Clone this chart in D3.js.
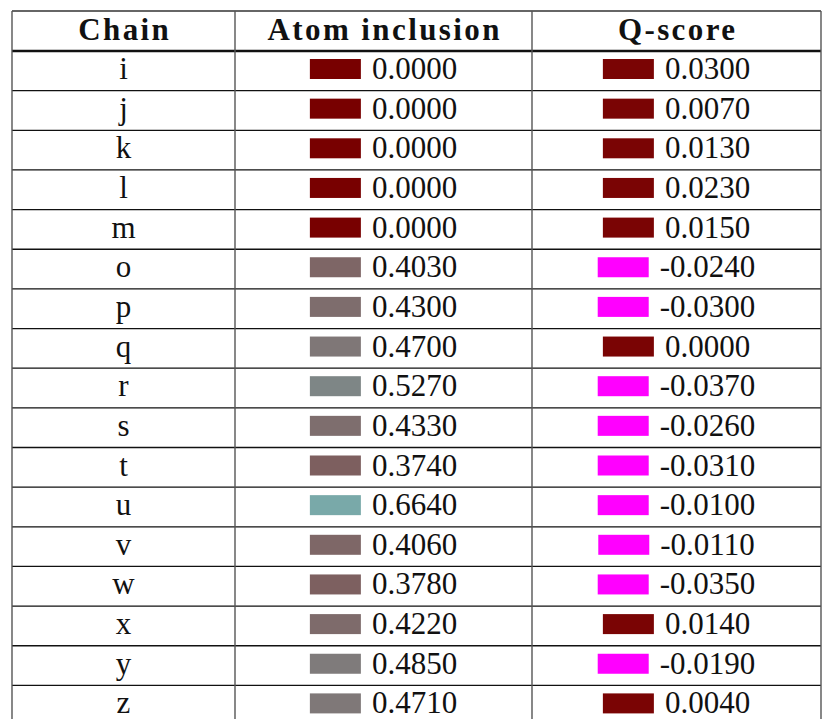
<!DOCTYPE html>
<html>
<head>
<meta charset="utf-8">
<script src="https://cdn.jsdelivr.net/npm/d3@7"></script>
<style>
  body { margin: 0; background: #fff; }
</style>
</head>
<body>
<svg id="chart" width="822" height="719"></svg>
<script>
///////////////////////////////////////////
// Data
///////////////////////////////////////////
var headers = ["Chain", "Atom inclusion", "Q-score"];
var chains = ["i", "j", "k", "l", "m", "o", "p", "q", "r", "s", "t", "u", "v", "w", "x", "y", "z"];
var atomInclusion = [0.0, 0.0, 0.0, 0.0, 0.0, 0.403, 0.430, 0.470, 0.527, 0.433, 0.374, 0.664, 0.406, 0.378, 0.422, 0.485, 0.471];
var qScore = [0.030, 0.007, 0.013, 0.023, 0.015, -0.024, -0.030, 0.0, -0.037, -0.026, -0.031, -0.010, -0.011, -0.035, 0.014, -0.019, 0.004];

///////////////////////////////////////////
// Layout
///////////////////////////////////////////
var svg = d3.select("#chart");
var FONT = "'Liberation Serif', 'DejaVu Serif', serif";
var colX = [12, 235, 532, 821];
var tableTop = 11, headH = 40, rowH = 39.65;
var swW = 51, swH = 20, gap = 11;
var headSpacing = 2.4;

var y = d3.scaleBand()
    .domain(chains)
    .range([tableTop + headH, tableTop + headH + rowH * chains.length])
    .padding(0);

// atom inclusion: maroon -> grey -> teal
var atomColor = d3.scaleLinear()
    .domain([0, 0.5, 1])
    .range(["#780000", "#7f7f7f", "#6effff"])
    .clamp(true);

// q-score: negative magenta, else maroon
var qColor = d3.scaleThreshold()
    .domain([0])
    .range(["#ff00ff", "#7a0404"]);

// plain hyphen like the original, not the unicode minus
var fmt = function(v) { return d3.format(".4f")(v).replace("\u2212", "-"); };

function colCenter(i) { return (colX[i] + colX[i + 1]) / 2; }

// header (bold, a bit wider like the latex font)
svg.selectAll("text.head")
    .data(headers)
    .enter().append("text")
    .attr("class", "head")
    .attr("x", function(d, i) { return colCenter(i) + headSpacing / 2; })
    .attr("y", tableTop + 29)
    .attr("text-anchor", "middle")
    .attr("font-family", FONT)
    .attr("font-size", 31)
    .attr("font-weight", "bold")
    .attr("letter-spacing", headSpacing)
    .attr("fill", "#111")
    .text(function(d) { return d; });

var rows = svg.selectAll("g.row")
    .data(chains)
    .enter().append("g")
    .attr("class", "row")
    .attr("transform", function(d) { return "translate(0," + y(d) + ")"; });

rows.append("text")
    .attr("x", colCenter(0))
    .attr("y", 28)
    .attr("text-anchor", "middle")
    .attr("font-family", FONT)
    .attr("font-size", 31)
    .attr("fill", "#111")
    .text(function(d) { return d; });

function cell(colIdx, values, color) {
    var g = rows.append("g");
    g.append("rect")
        .attr("width", swW)
        .attr("height", swH)
        .attr("y", 8)
        .attr("fill", function(d, i) { return color(values[i]); });
    g.append("text")
        .attr("x", swW + gap)
        .attr("y", 28)
        .attr("font-family", FONT)
        .attr("font-size", 31)
        .attr("fill", "#111")
        .text(function(d, i) { return fmt(values[i]); });
    g.each(function() {
        var w = swW + gap + d3.select(this).select("text").node().getComputedTextLength();
        d3.select(this).attr("transform", "translate(" + (colCenter(colIdx) - w / 2) + ",0)");
    });
}
cell(1, atomInclusion, atomColor);
cell(2, qScore, qColor);

///////////////////////////////////////////
// Rules
///////////////////////////////////////////
var bottom = y.range()[1];
svg.selectAll("line.h")
    .data(chains.slice(1))
    .enter().append("line")
    .attr("x1", colX[0]).attr("x2", colX[3])
    .attr("y1", function(d) { return y(d); })
    .attr("y2", function(d) { return y(d); })
    .attr("stroke", "#111").attr("stroke-width", 1.3);

svg.append("line")
    .attr("x1", colX[0]).attr("x2", colX[3])
    .attr("y1", tableTop).attr("y2", tableTop)
    .attr("stroke", "#333").attr("stroke-width", 1.3);

svg.append("line")
    .attr("x1", colX[0]).attr("x2", colX[3])
    .attr("y1", tableTop + headH).attr("y2", tableTop + headH)
    .attr("stroke", "#111").attr("stroke-width", 2.6);

svg.selectAll("line.v")
    .data(colX)
    .enter().append("line")
    .attr("x1", function(d) { return d; }).attr("x2", function(d) { return d; })
    .attr("y1", tableTop).attr("y2", bottom)
    .attr("stroke", "#555").attr("stroke-width", 1.4);
</script>
</body>
</html>
